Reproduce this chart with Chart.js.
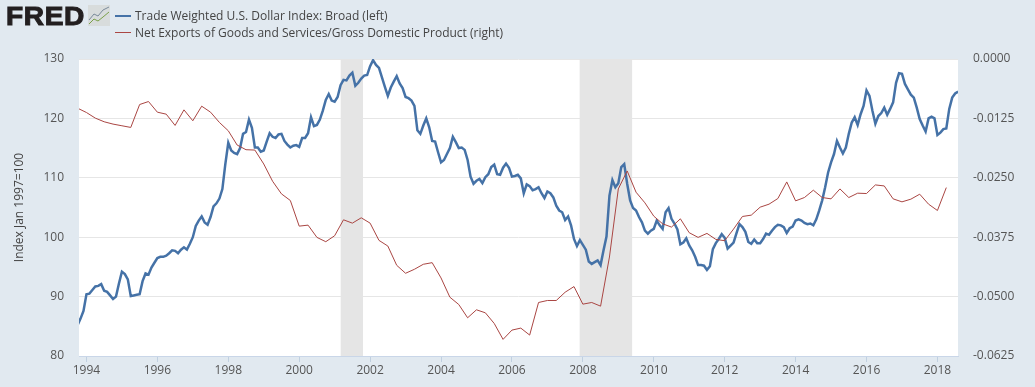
<!DOCTYPE html>
<html>
<head>
<meta charset="utf-8">
<title>FRED</title>
<script src="https://cdn.jsdelivr.net/npm/chart.js@4"></script>
<style>
  body { margin: 0; background: #e1e9f0; font-family: "Open Sans", sans-serif; }
  #wrap { position: relative; width: 1035px; height: 387px; overflow: hidden; }
  #grafico { position: absolute; left: 0; top: 0; }
  #logo { position: absolute; left: 6px; top: 1px; font: bold 26px "Liberation Sans", sans-serif; letter-spacing: 0.6px; color: #231f20; -webkit-text-stroke: 1px #231f20; transform: scaleX(1.08); transform-origin: left top; }
  #icono { position: absolute; left: 88px; top: 5px; }
  .leyenda { position: absolute; left: 115px; font-size: 12px; line-height: 16px; color: #444; white-space: nowrap; }
  .leyenda i { display: inline-block; width: 16px; vertical-align: middle; margin-right: 4px; position: relative; top: -1px; }
</style>
</head>
<body>
<div id="wrap">
  <canvas id="grafico" width="1035" height="387"></canvas>
  <div id="logo">FRED</div>
  <svg id="icono" width="22" height="21">
    <rect width="22" height="21" fill="#d8dcdc"/>
    <polyline points="1,15 6,9 10,11 15,5 21,2" fill="none" stroke="#7a8a9a" stroke-width="1"/>
    <polyline points="1,19 6,14 10,16 15,12 21,7" fill="none" stroke="#7aa04a" stroke-width="1"/>
  </svg>
  <div class="leyenda" style="top:8px"><i style="border-top:2px solid #4572a7"></i>Trade Weighted U.S. Dollar Index: Broad (left)</div>
  <div class="leyenda" style="top:25px"><i style="border-top:1px solid #aa4643"></i>Net Exports of Goods and Services/Gross Domestic Product (right)</div>
</div>
<script>
// first observation of both series, in decimal years (Oct 1993)
const inicio_series = 1993.75;

// monthly
const indice_dolar = [
  85.2, 86.3, 87.6, 90.4, 90.5, 91.1, 91.7, 91.8, 92.1, 91.0, 90.8, 90.2, 89.6, 90.0, 92.2, 94.2, 93.8, 92.9, 90.1, 90.2,
  90.3, 90.4, 92.6, 93.9, 93.7, 94.9, 95.7, 96.5, 96.7, 96.7, 96.9, 97.3, 97.8, 97.7, 97.3, 97.9, 98.3, 97.9, 98.9, 100.0,
  101.9, 102.8, 103.5, 102.5, 102.1, 103.4, 105.2, 105.7, 106.5, 108.1, 112.3, 115.9, 114.6, 114.2, 114.0, 115.0, 117.4, 117.7, 119.8, 118.4,
  115.1, 115.1, 114.4, 114.6, 116.1, 117.5, 116.9, 116.7, 117.3, 117.4, 116.2, 115.6, 115.1, 115.4, 115.5, 115.2, 116.7, 116.7, 117.5, 120.2,
  118.7, 118.9, 119.8, 121.3, 123.1, 124.1, 123.0, 122.8, 123.6, 125.6, 126.5, 126.4, 127.2, 127.7, 125.5, 126.0, 126.7, 127.2, 127.3, 128.8,
  129.8, 129.0, 128.5, 126.9, 125.3, 123.8, 125.2, 126.2, 127.1, 125.9, 125.1, 123.6, 123.4, 123.0, 122.1, 118.0, 117.4, 118.8, 120.0, 118.5,
  116.2, 116.1, 114.3, 112.6, 113.0, 114.0, 115.0, 116.9, 116.0, 115.0, 115.1, 114.7, 113.0, 110.2, 109.0, 109.5, 109.8, 109.1, 110.1, 110.6,
  111.8, 112.2, 110.6, 110.5, 111.7, 112.4, 111.7, 110.2, 110.3, 110.5, 109.9, 107.4, 108.9, 108.6, 107.9, 108.1, 108.4, 107.4, 106.6, 107.7,
  107.4, 106.7, 105.3, 104.5, 104.2, 102.9, 103.5, 102.0, 99.7, 98.5, 99.5, 98.7, 97.9, 95.9, 95.5, 95.8, 96.1, 95.3, 97.8, 100.1,
  107.0, 109.6, 108.4, 109.1, 111.8, 112.3, 109.0, 106.2, 104.9, 104.5, 103.4, 102.5, 101.1, 100.6, 101.1, 101.4, 102.8, 102.0, 101.4, 104.2,
  104.9, 103.1, 102.3, 101.3, 98.8, 99.1, 99.8, 98.6, 97.8, 96.7, 95.3, 95.3, 95.2, 94.5, 95.1, 98.0, 99.0, 99.7, 100.5, 99.9,
  98.1, 98.6, 99.1, 100.7, 102.2, 101.7, 100.9, 99.2, 98.9, 99.6, 99.0, 99.0, 99.7, 100.6, 100.4, 101.1, 101.7, 102.1, 102.0, 101.7,
  100.7, 101.5, 101.8, 102.8, 103.0, 102.8, 102.4, 102.2, 102.3, 102.0, 103.0, 104.5, 106.2, 108.4, 110.9, 112.6, 114.0, 116.2, 115.1, 114.1,
  115.1, 117.4, 119.3, 120.2, 118.9, 120.7, 122.1, 124.7, 123.8, 121.3, 119.1, 120.4, 120.9, 121.8, 120.6, 121.6, 122.7, 126.0, 127.6, 127.5,
  125.8, 124.9, 124.0, 123.5, 121.8, 119.9, 118.8, 117.8, 120.0, 120.3, 120.0, 117.2, 117.6, 118.2, 118.3, 121.6, 123.5, 124.2, 124.5,
];

// quarterly
const exportaciones_netas = [
  -0.01035, -0.01126, -0.01244, -0.01321, -0.0137, -0.01405, -0.0144, -0.00958, -0.00895, -0.01119,
  -0.01161, -0.01398, -0.0107, -0.013, -0.00993, -0.01119, -0.01335, -0.0151, -0.01811, -0.01909,
  -0.01916, -0.02209, -0.02573, -0.02838, -0.02978, -0.03517, -0.03496, -0.03754, -0.03845, -0.03719,
  -0.03384, -0.03454, -0.03342, -0.03454, -0.03817, -0.03936, -0.04341, -0.04509, -0.04425, -0.0432,
  -0.04286, -0.04607, -0.05013, -0.05166, -0.05446, -0.05278, -0.05341, -0.05565, -0.059, -0.05705,
  -0.05663, -0.0581, -0.05124, -0.05082, -0.05082, -0.04908, -0.04789, -0.05159, -0.05124, -0.05201,
  -0.04167, -0.02734, -0.02356, -0.02803, -0.03027, -0.03307, -0.03468, -0.03537, -0.03363, -0.03656,
  -0.03754, -0.0367, -0.03796, -0.03824, -0.03579, -0.03314, -0.03286, -0.03118, -0.03055, -0.02936,
  -0.02587, -0.02985, -0.02915, -0.02761, -0.02915, -0.02943, -0.02734, -0.02915, -0.02824, -0.02831,
  -0.0265, -0.02671, -0.02943, -0.03006, -0.0295, -0.02845, -0.03055, -0.03188, -0.02706,
];

const recesiones = [
  [2001.17, 2001.8],
  [2007.91, 2009.39],
];
const anios_eje = [1994, 1996, 1998, 2000, 2002, 2004, 2006, 2008, 2010, 2012, 2014, 2016, 2018];
const ticks_izquierda = [80, 90, 100, 110, 120, 130];
const ticks_derecha = [-0.0625, -0.05, -0.0375, -0.025, -0.0125, 0];

const plugin_fondo = {
  id: "fondoRecesiones",
  beforeDraw: (chart) => {
    const { ctx, chartArea } = chart;
    ctx.save();
    ctx.fillStyle = "#ffffff";
    ctx.fillRect(chartArea.left, chartArea.top, chartArea.width, chartArea.height);
    ctx.restore();
  },
  beforeDatasetsDraw: (chart) => {
    const { ctx, chartArea, scales } = chart;
    ctx.save();
    ctx.fillStyle = "#e5e5e5";
    recesiones.forEach(([desde, hasta]) => {
      const x0 = scales.x.getPixelForValue(desde);
      const x1 = scales.x.getPixelForValue(hasta);
      ctx.fillRect(x0, chartArea.top, x1 - x0, chartArea.height);
    });
    ctx.restore();
  },
};

const fuente_ejes = { family: "'Open Sans', sans-serif", size: 12 };

new Chart(document.getElementById("grafico"), {
  type: "line",
  data: {
    datasets: [
      {
        label: "Net Exports of Goods and Services/Gross Domestic Product (right)",
        data: exportaciones_netas.map((y, i) => ({ x: inicio_series + i / 4, y: y })),
        yAxisID: "y1",
        borderColor: "#aa4643",
        borderWidth: 1,
        pointRadius: 0,
        tension: 0,
        order: 0,
      },
      {
        label: "Trade Weighted U.S. Dollar Index: Broad (left)",
        data: indice_dolar.map((y, i) => ({ x: inicio_series + i / 12, y: y })),
        yAxisID: "y",
        borderColor: "#4572a7",
        borderWidth: 2.5,
        pointRadius: 0,
        tension: 0,
        order: 1,
      },
    ],
  },
  options: {
    responsive: false,
    animation: false,
    layout: { padding: { top: 59, bottom: 0, left: 0, right: 0 } },
    plugins: {
      legend: { display: false },
      tooltip: { enabled: false },
    },
    scales: {
      x: {
        type: "linear",
        min: 1993.79,
        max: 2018.58,
        afterBuildTicks: (scale) => {
          scale.ticks = anios_eje.map((v) => ({ value: v }));
        },
        afterFit: (scale) => {
          scale.height = 31;
        },
        grid: { drawOnChartArea: false, color: "#c0d0e0", tickLength: 6 },
        border: { color: "#c9d6e8" },
        ticks: {
          color: "#555",
          font: fuente_ejes,
          padding: 1,
          maxRotation: 0,
          autoSkip: false,
          callback: (value) => String(value),
        },
      },
      y: {
        position: "left",
        min: 80,
        max: 130,
        afterBuildTicks: (scale) => {
          scale.ticks = ticks_izquierda.map((v) => ({ value: v }));
        },
        afterFit: (scale) => {
          scale.width = 79;
        },
        title: {
          display: true,
          text: "Index Jan 1997=100",
          color: "#444",
          font: { family: "'Open Sans', sans-serif", size: 12 },
          padding: { top: 12, bottom: 0 },
        },
        grid: { color: "#e6e6e6", lineWidth: 1, drawTicks: false },
        border: { display: false },
        ticks: { color: "#555", font: fuente_ejes, padding: 15 },
      },
      y1: {
        position: "right",
        min: -0.0625,
        max: 0,
        afterBuildTicks: (scale) => {
          scale.ticks = ticks_derecha.map((v) => ({ value: v }));
        },
        afterFit: (scale) => {
          scale.width = 77;
        },
        grid: { drawOnChartArea: false, drawTicks: false },
        border: { display: false },
        ticks: {
          color: "#555",
          font: fuente_ejes,
          padding: 15,
          callback: (value) => value.toFixed(4),
        },
      },
    },
  },
  plugins: [plugin_fondo],
});
</script>
</body>
</html>
